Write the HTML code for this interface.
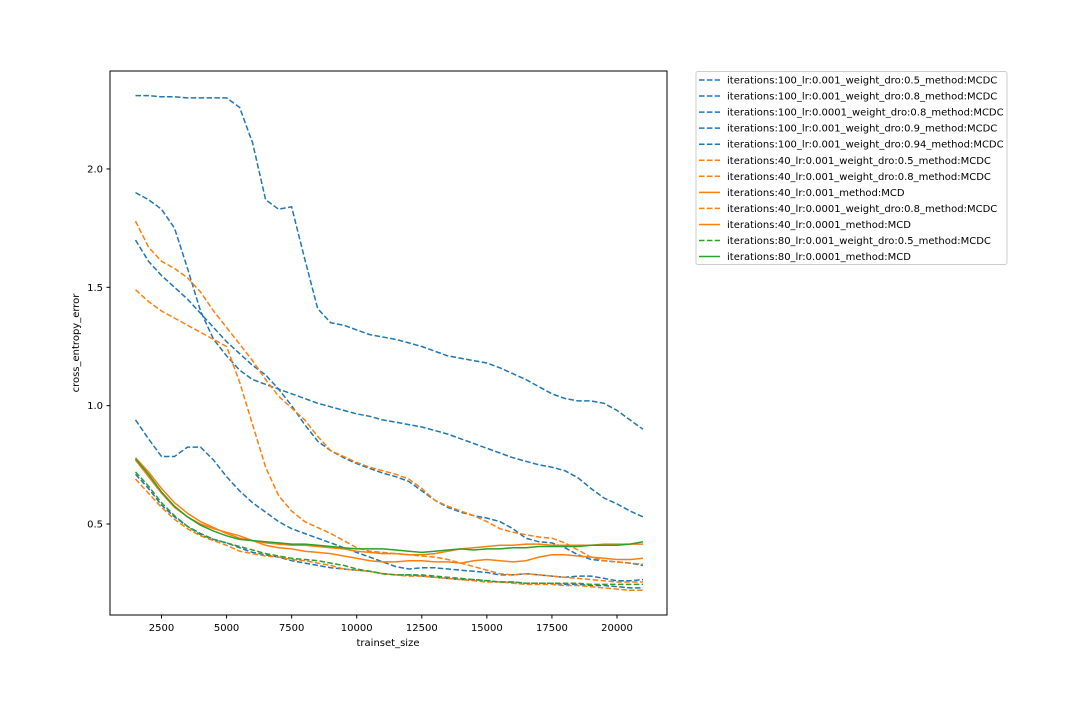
<!DOCTYPE html>
<html><head><meta charset="utf-8"><style>
body{margin:0;background:#fff;}
svg{display:block;font-family:"DejaVu Sans","Liberation Sans",sans-serif;}
</style></head><body>
<svg id="chart" width="1078" height="719">
<rect x="0" y="0" width="1078" height="719" fill="#fff"/>
<g id="plot"></g>
<rect x="110" y="71" width="557" height="544" fill="none" stroke="#000" stroke-width="1"/>
<g id="axes"></g>
<text x="388" y="646" font-size="10" text-anchor="middle">trainset_size</text>
<text transform="translate(79,343) rotate(-90)" font-size="10" text-anchor="middle">cross_entropy_error</text>
<g id="legend"></g>
</svg>
<script>
const xs = [1500,2000,2500,3000,3500,4000,4500,5000,5500,6000,6500,7000,7500,8000,8500,9000,9500,10000,10500,11000,11500,12000,12500,13000,13500,14000,14500,15000,15500,16000,16500,17000,17500,18000,18500,19000,19500,20000,20500,21000];
const labels = ["iterations:100_lr:0.001_weight_dro:0.5_method:MCDC","iterations:100_lr:0.001_weight_dro:0.8_method:MCDC","iterations:100_lr:0.0001_weight_dro:0.8_method:MCDC","iterations:100_lr:0.001_weight_dro:0.9_method:MCDC","iterations:100_lr:0.001_weight_dro:0.94_method:MCDC","iterations:40_lr:0.001_weight_dro:0.5_method:MCDC","iterations:40_lr:0.001_weight_dro:0.8_method:MCDC","iterations:40_lr:0.001_method:MCD","iterations:40_lr:0.0001_weight_dro:0.8_method:MCDC","iterations:40_lr:0.0001_method:MCD","iterations:80_lr:0.001_weight_dro:0.5_method:MCDC","iterations:80_lr:0.0001_method:MCD"];
const colors = ["#1f77b4","#1f77b4","#1f77b4","#1f77b4","#1f77b4","#ff7f0e","#ff7f0e","#ff7f0e","#ff7f0e","#ff7f0e","#2ca02c","#2ca02c"];
const dashed = [1,1,1,1,1,1,1,0,1,0,1,0];
const s1 = [2.31,2.31,2.305,2.305,2.30,2.30,2.30,2.30,2.26,2.11,1.87,1.83,1.84,1.62,1.41,1.35,1.34,1.32,1.30,1.29,1.28,1.265,1.25,1.23,1.21,1.20,1.19,1.18,1.16,1.135,1.11,1.08,1.05,1.03,1.02,1.02,1.01,0.98,0.94,0.90];
const s2 = [1.90,1.87,1.83,1.75,1.58,1.40,1.28,1.21,1.15,1.11,1.09,1.07,1.05,1.03,1.01,0.995,0.98,0.965,0.955,0.94,0.93,0.92,0.91,0.895,0.88,0.86,0.84,0.82,0.80,0.78,0.765,0.75,0.74,0.725,0.695,0.65,0.61,0.585,0.555,0.53];
const s3 = [1.70,1.61,1.55,1.50,1.45,1.39,1.33,1.27,1.22,1.17,1.13,1.07,1.00,0.92,0.85,0.81,0.78,0.755,0.735,0.715,0.70,0.68,0.64,0.60,0.57,0.55,0.535,0.525,0.51,0.48,0.44,0.425,0.42,0.40,0.37,0.35,0.345,0.34,0.335,0.325];
const s4 = [0.94,0.86,0.785,0.785,0.825,0.825,0.77,0.70,0.64,0.59,0.55,0.51,0.48,0.46,0.44,0.42,0.40,0.38,0.36,0.34,0.32,0.31,0.315,0.315,0.31,0.305,0.30,0.295,0.285,0.285,0.29,0.285,0.28,0.275,0.28,0.28,0.27,0.26,0.26,0.265];
const s5 = [0.71,0.65,0.58,0.53,0.49,0.46,0.435,0.42,0.40,0.38,0.37,0.36,0.345,0.335,0.325,0.315,0.31,0.305,0.30,0.29,0.285,0.285,0.28,0.275,0.27,0.265,0.265,0.26,0.255,0.255,0.25,0.25,0.25,0.245,0.245,0.24,0.24,0.235,0.23,0.23];
const s6 = [1.78,1.67,1.61,1.58,1.54,1.48,1.40,1.33,1.26,1.19,1.11,1.04,0.99,0.94,0.87,0.81,0.785,0.76,0.74,0.725,0.71,0.69,0.65,0.60,0.575,0.555,0.535,0.51,0.48,0.465,0.455,0.445,0.44,0.42,0.39,0.36,0.345,0.34,0.335,0.33];
const s7 = [1.49,1.44,1.40,1.37,1.34,1.31,1.28,1.25,1.10,0.92,0.74,0.62,0.555,0.51,0.485,0.46,0.43,0.40,0.385,0.38,0.375,0.37,0.365,0.36,0.35,0.335,0.32,0.305,0.29,0.285,0.29,0.285,0.28,0.275,0.27,0.265,0.26,0.255,0.255,0.255];
const s8 = [0.78,0.72,0.65,0.59,0.545,0.51,0.485,0.46,0.44,0.43,0.42,0.415,0.41,0.41,0.405,0.40,0.395,0.385,0.38,0.375,0.375,0.37,0.37,0.375,0.385,0.395,0.40,0.405,0.41,0.41,0.415,0.415,0.41,0.41,0.41,0.41,0.415,0.415,0.415,0.415];
const s9 = [0.69,0.63,0.57,0.52,0.48,0.45,0.43,0.41,0.385,0.375,0.365,0.36,0.35,0.345,0.335,0.325,0.31,0.305,0.30,0.29,0.285,0.28,0.28,0.275,0.27,0.265,0.26,0.255,0.255,0.25,0.245,0.245,0.245,0.24,0.24,0.235,0.23,0.225,0.22,0.22];
const s10 = [0.77,0.70,0.63,0.57,0.53,0.50,0.48,0.465,0.45,0.43,0.41,0.40,0.395,0.385,0.38,0.375,0.365,0.355,0.345,0.34,0.34,0.345,0.345,0.34,0.34,0.335,0.345,0.35,0.345,0.34,0.345,0.36,0.37,0.37,0.365,0.36,0.355,0.35,0.35,0.355];
const s11 = [0.72,0.66,0.59,0.535,0.49,0.455,0.435,0.42,0.405,0.39,0.375,0.365,0.355,0.35,0.345,0.335,0.325,0.31,0.30,0.29,0.285,0.285,0.285,0.28,0.275,0.27,0.265,0.26,0.255,0.255,0.25,0.25,0.25,0.25,0.25,0.245,0.245,0.245,0.245,0.245];
const s12 = [0.775,0.71,0.635,0.575,0.53,0.495,0.47,0.45,0.435,0.43,0.425,0.42,0.415,0.415,0.41,0.405,0.40,0.395,0.395,0.395,0.39,0.385,0.38,0.385,0.39,0.395,0.39,0.395,0.395,0.40,0.40,0.405,0.405,0.405,0.405,0.41,0.41,0.41,0.415,0.425];
const series = [s1,s2,s3,s4,s5,s6,s7,s8,s9,s10,s11,s12];
const xTicks = [2500,5000,7500,10000,12500,15000,17500,20000];
const yTicks = [0.5,1.0,1.5,2.0];
const yTickLabels = ["0.5","1.0","1.5","2.0"];

const NS = "http://www.w3.org/2000/svg";
function xScale(v){ return 161.5 + (v-2500)*(455.5/17500); }
function yScale(v){ return 524 - (v-0.5)*236.7; }
function mk(tag, attrs, parent){
  const e = document.createElementNS(NS, tag);
  for (const k in attrs) e.setAttribute(k, attrs[k]);
  parent.appendChild(e); return e;
}
const plot = document.getElementById('plot');
const axes = document.getElementById('axes');
const legend = document.getElementById('legend');
series.forEach((s,i)=>{
  const d = s.map((v,j)=>(j?'L':'M')+xScale(xs[j]).toFixed(1)+','+yScale(v).toFixed(1)).join(' ');
  const p = mk('path',{d:d,fill:'none',stroke:colors[i],'stroke-width':1.5,'stroke-dasharray':dashed[i]?'5.5,2.4':'none'},plot);
  
  
});
xTicks.forEach(t=>{
  const x = xScale(t);
  const l = mk('line',{x1:x,x2:x,y1:615,y2:618.5,stroke:'#000'},axes);
  
  
  const tx = mk('text',{x:x,y:631,'font-size':10,'text-anchor':'middle'},axes);
  tx.textContent = String(t);
  
  
});
yTicks.forEach((t,i)=>{
  const y = yScale(t);
  const l = mk('line',{x1:106.5,x2:110,y1:y,y2:y,stroke:'#000'},axes);
  
  
  const tx = mk('text',{x:103,y:y+3.5,'font-size':10,'text-anchor':'end'},axes);
  tx.textContent = yTickLabels[i];
  
  
});
const box = mk('rect',{x:696,y:71.5,width:311,height:193,rx:2,fill:'#fff',stroke:'#ccc'},legend);


labels.forEach((lab,i)=>{
  const y = 80 + i*16.05;
  const g = mk('g',{},legend);
  
  
  mk('line',{x1:699,x2:720,y1:y,y2:y,stroke:colors[i],'stroke-width':1.5,'stroke-dasharray':dashed[i]?'5.5,2.4':'none'},g);
  const t = mk('text',{x:727,y:y+3.5,'font-size':10},g);
  t.textContent = lab;
});
</script>
</body></html>
